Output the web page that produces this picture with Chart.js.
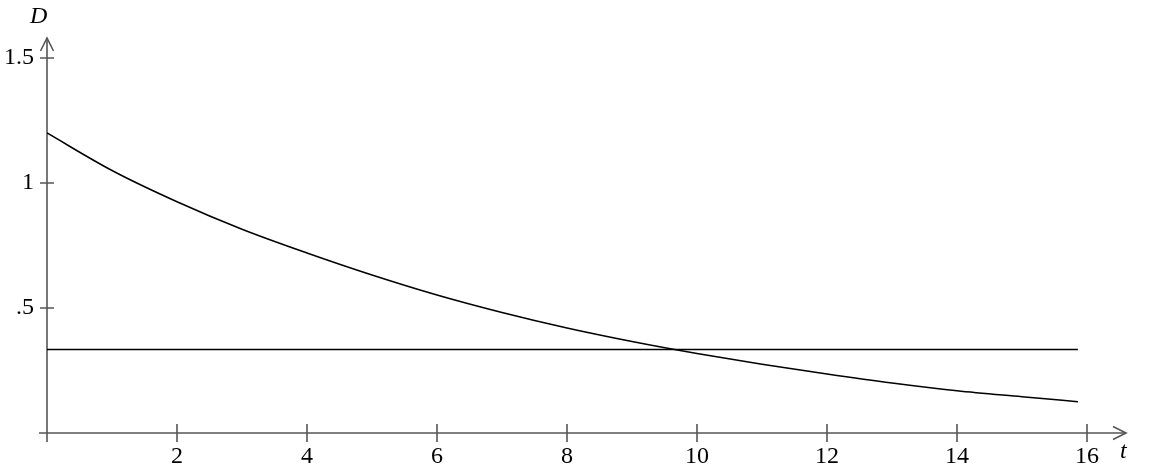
<!DOCTYPE html>
<html>
<head>
<meta charset="utf-8">
<script src="https://cdn.jsdelivr.net/npm/chart.js@4/dist/chart.umd.min.js"></script>
<style>
  html, body { margin: 0; padding: 0; background: #fff; }
  #wrap { width: 1150px; height: 473px; }
</style>
</head>
<body>
<div id="wrap"><canvas id="chart"></canvas></div>
<script>
// values
const t_values = [0, 1, 2, 3, 4, 5, 6, 7, 8, 9, 10, 11, 12, 13, 14, 15, 15.86];
const d_values = [1.20, 1.05, 0.925, 0.815, 0.72, 0.632, 0.552, 0.482, 0.42, 0.366, 0.318, 0.275, 0.236, 0.20, 0.169, 0.145, 0.125];
// horizontal level
const level_t = [0, 15.86];
const level_d = [0.334, 0.334];
// tick labels
const x_ticks = [2, 4, 6, 8, 10, 12, 14, 16];
const y_ticks = [0, 0.5, 1, 1.5];
const y_tick_labels = { 0: '', 0.5: '.5', 1: '1', 1.5: '1.5' };

const serif = 'Liberation Serif, Times New Roman, serif';
const axisColor = '#555';

// draws the axis lines, crossing tick marks, arrows and the axis names
const axesPlugin = {
    id: 'axes',
    beforeDatasetsDraw(chart) {
        const c = chart.ctx;
        const xs = chart.scales.x;
        const ys = chart.scales.y;
        const x0 = xs.getPixelForValue(0);
        const y0 = ys.getPixelForValue(0);
        const right = chart.chartArea.right;
        const top = chart.chartArea.top;
        c.save();
        c.strokeStyle = axisColor;
        c.lineWidth = 1.6;
        c.beginPath();
        // x axis
        c.moveTo(x0 - 8, y0);
        c.lineTo(right, y0);
        // y axis
        c.moveTo(x0, y0 + 9);
        c.lineTo(x0, top);
        // x ticks
        x_ticks.forEach(v => {
            const px = xs.getPixelForValue(v);
            c.moveTo(px, y0 - 9);
            c.lineTo(px, y0 + 9);
        });
        // y ticks
        y_ticks.forEach(v => {
            if (v === 0) return;
            const py = ys.getPixelForValue(v);
            c.moveTo(x0 - 7, py);
            c.lineTo(x0 + 7, py);
        });
        c.stroke();
        // arrows
        c.beginPath();
        c.moveTo(right - 13, y0 - 6.5);
        c.lineTo(right, y0);
        c.lineTo(right - 13, y0 + 6.5);
        c.moveTo(x0 - 6.5, top + 13);
        c.lineTo(x0, top);
        c.lineTo(x0 + 6.5, top + 13);
        c.stroke();
        // axis names
        c.fillStyle = '#000';
        c.font = 'italic 24px ' + serif;
        c.textAlign = 'left';
        c.textBaseline = 'alphabetic';
        c.fillText('D', 30, 23);
        c.fillText('t', 1120, 458);
        c.restore();
    }
};

const config = {
    type: 'line',
    data: {
        datasets: [
            {
                label: 'D',
                data: t_values.map((t, i) => ({ x: t, y: d_values[i] })),
                borderColor: '#000',
                borderWidth: 1.5,
                pointRadius: 0,
                cubicInterpolationMode: 'monotone',
                fill: false
            },
            {
                label: 'level',
                data: level_t.map((t, i) => ({ x: t, y: level_d[i] })),
                borderColor: '#000',
                borderWidth: 1.5,
                pointRadius: 0,
                fill: false
            }
        ]
    },
    options: {
        responsive: true,
        maintainAspectRatio: false,
        animation: false,
        events: [],
        layout: {
            padding: { left: 0, right: 24, top: 38, bottom: 0 }
        },
        plugins: {
            legend: { display: false },
            tooltip: { enabled: false }
        },
        scales: {
            x: {
                type: 'linear',
                min: 0,
                max: 16.6,
                border: { display: false },
                grid: { display: false, drawTicks: false },
                afterFit: s => { s.height = 40; },
                afterBuildTicks: s => { s.ticks = x_ticks.map(v => ({ value: v })); },
                ticks: {
                    color: '#000',
                    padding: 9,
                    maxRotation: 0,
                    font: { family: serif, size: 24 }
                }
            },
            y: {
                type: 'linear',
                min: 0,
                max: 1.58,
                border: { display: false },
                grid: { display: false, drawTicks: false },
                afterFit: s => { s.width = 47; },
                afterBuildTicks: s => { s.ticks = y_ticks.map(v => ({ value: v })); },
                ticks: {
                    color: '#000',
                    padding: 13,
                    font: { family: serif, size: 24 },
                    callback: v => y_tick_labels[v]
                }
            }
        }
    },
    plugins: [axesPlugin]
};

const chart = new Chart(document.getElementById('chart'), config);
</script>
</body>
</html>
